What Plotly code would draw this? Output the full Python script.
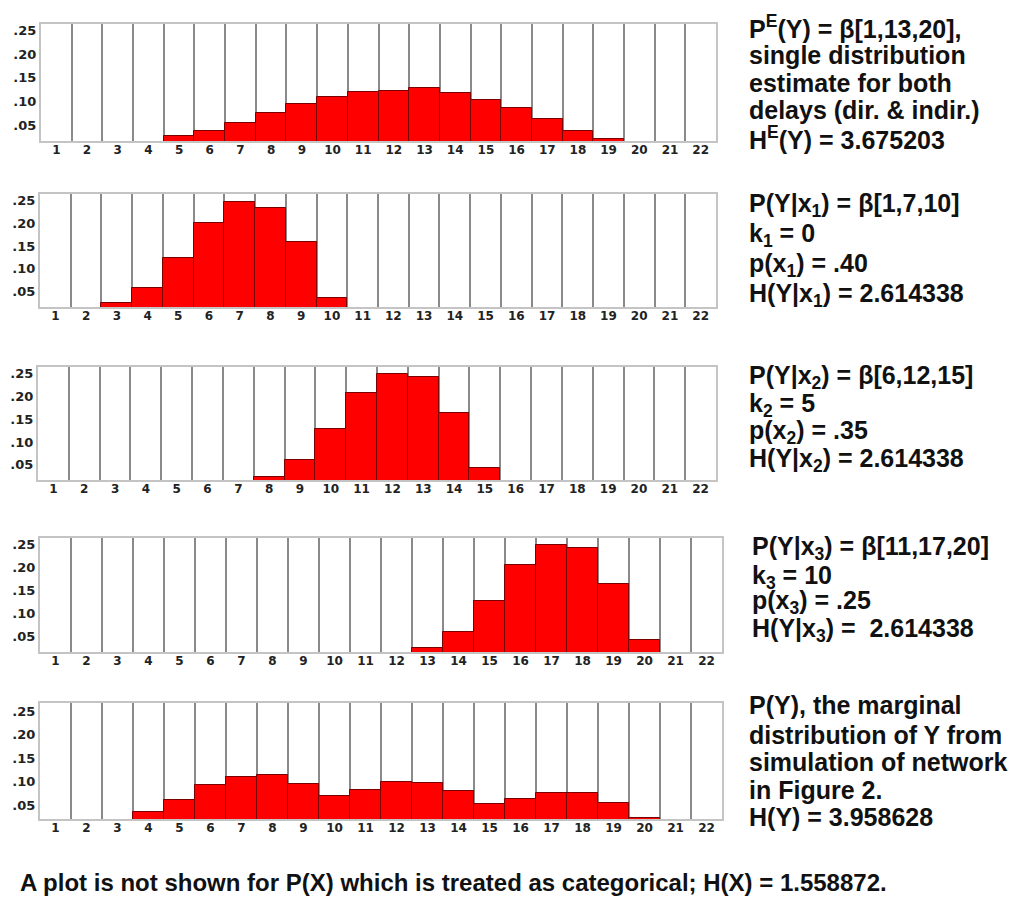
import plotly.graph_objects as go

# page is shown with an 8px body margin; figure coordinates are offset by it
OFF = 8
FW, FH = 1014, 891


def px(x):
    return (x - OFF) / FW


def py(y):
    return 1 - (y - OFF) / FH


categories = [1, 2, 3, 4, 5, 6, 7, 8, 9, 10, 11, 12, 13, 14, 15, 16, 17, 18, 19, 20, 21, 22]
tick_labels = [str(c) for c in categories]
y_tick_vals = [0.05, 0.10, 0.15, 0.20, 0.25]
y_tick_text = [".05", ".10", ".15", ".20", ".25"]

p_e = [0, 0, 0, 0, 0.027, 0.038, 0.054, 0.076, 0.095, 0.109, 0.120,
       0.123, 0.128, 0.117, 0.103, 0.085, 0.062, 0.037, 0.020, 0, 0, 0]
p_x1 = [0, 0, 0.024, 0.058, 0.124, 0.201, 0.247, 0.235, 0.158, 0.036, 0,
        0, 0, 0, 0, 0, 0, 0, 0, 0, 0, 0]
p_x2 = [0, 0, 0, 0, 0, 0, 0, 0.0245, 0.061, 0.128, 0.207,
        0.248, 0.243, 0.164, 0.043, 0, 0, 0, 0, 0, 0, 0]
p_x3 = [0, 0, 0, 0, 0, 0, 0, 0, 0, 0, 0,
        0, 0.025, 0.061, 0.128, 0.207, 0.249, 0.243, 0.164, 0.043, 0, 0]
p_y = [0, 0, 0, 0.035, 0.061, 0.093, 0.109, 0.114, 0.095, 0.069, 0.081,
       0.100, 0.096, 0.080, 0.052, 0.063, 0.075, 0.075, 0.055, 0.022, 0, 0]

series = [p_e, p_x1, p_x2, p_x3, p_y]

text_lines = [
    ["P<sup>E</sup>(Y) = β[1,13,20],", "single distribution", "estimate for both",
     "delays (dir. &amp; indir.)", "H<sup>E</sup>(Y) = 3.675203"],
    ["P(Y|x<sub>1</sub>) = β[1,7,10]", "k<sub>1</sub> = 0", "p(x<sub>1</sub>) = .40",
     "H(Y|x<sub>1</sub>) = 2.614338"],
    ["P(Y|x<sub>2</sub>) = β[6,12,15]", "k<sub>2</sub> = 5", "p(x<sub>2</sub>) = .35",
     "H(Y|x<sub>2</sub>) = 2.614338"],
    ["P(Y|x<sub>3</sub>) = β[11,17,20]", "k<sub>3</sub> = 10", "p(x<sub>3</sub>) = .25",
     "H(Y|x<sub>3</sub>) =  2.614338"],
    ["P(Y), the marginal", "distribution of Y from", "simulation of network",
     "in Figure 2.", "H(Y) = 3.958628"],
]
caption = "A plot is not shown for P(X) which is treated as categorical; H(X) = 1.558872."

# layout geometry (screen pixels): left, right, top, bottom of each plot area
panels = [
    (41, 716, 24, 141),
    (40, 716, 194, 307),
    (38, 716, 367, 480),
    (40, 722, 538, 652),
    (40, 722, 703, 819),
]
y_ranges = [
    (0.016, 0.264),
    (0.015, 0.265),
    (0.017, 0.264),
    (0.0173, 0.2646),
    (0.020, 0.268),
]
text_x = [747, 747, 747, 750, 747]
text_y = [
    [27, 55, 83, 110, 138],
    [205, 235, 265, 295],
    [377, 405, 432, 460],
    [548, 577, 602, 630],
    [705, 735, 762, 790, 817],
]

fig = go.Figure()
boundaries = [c - 0.5 for c in categories] + [categories[-1] + 0.5]

for i, vals in enumerate(series):
    n = "" if i == 0 else str(i + 1)
    fig.add_trace(go.Bar(
        x=categories, y=vals, width=1,
        marker=dict(color="#ff0000", line=dict(color="#7a0000", width=1)),
        xaxis="x" + n, yaxis="y" + n, showlegend=False,
    ))
    l, r, t, b = panels[i]
    fig.layout["xaxis" + n] = dict(
        domain=[px(l), px(r)], anchor="y" + n,
        range=[categories[0] - 0.5, categories[-1] + 0.5],
        tickmode="array", tickvals=categories, ticktext=tick_labels,
        showgrid=False, zeroline=False,
        showline=True, mirror=True, linecolor="#c4c4c4", linewidth=2,
        ticks="", ticklabelstandoff=-3,
        tickfont=dict(family="DejaVu Sans", size=12, color="#222", weight="bold"),
        minor=dict(tickmode="array", tickvals=boundaries, showgrid=True,
                   gridcolor="#8a8a8a", gridwidth=1.6, ticks=""),
    )
    fig.layout["yaxis" + n] = dict(
        domain=[py(b), py(t)], anchor="x" + n,
        range=list(y_ranges[i]),
        tickmode="array", tickvals=y_tick_vals, ticktext=y_tick_text,
        showgrid=False, zeroline=False,
        showline=True, mirror=True, linecolor="#c4c4c4", linewidth=2,
        ticks="",
        tickfont=dict(family="DejaVu Sans", size=13, color="#222", weight="bold"),
    )
    for line, yy in zip(text_lines[i], text_y[i]):
        fig.add_annotation(
            x=px(text_x[i]), y=py(yy), xref="paper", yref="paper",
            xanchor="left", yanchor="middle", align="left", showarrow=False,
            text="<b>" + line + "</b>",
            font=dict(family="Liberation Sans, Arial, sans-serif", size=25, color="#111"),
        )

fig.add_annotation(
    x=px(18), y=py(882), xref="paper", yref="paper",
    xanchor="left", yanchor="middle", align="left", showarrow=False,
    text="<b>" + caption + "</b>",
    font=dict(family="Liberation Sans, Arial, sans-serif", size=24, color="#111"),
)

fig.update_layout(
    width=FW, height=FH,
    margin=dict(l=0, r=0, t=0, b=0),
    paper_bgcolor="white", plot_bgcolor="white",
    bargap=0,
)

fig.write_html("out.html")
